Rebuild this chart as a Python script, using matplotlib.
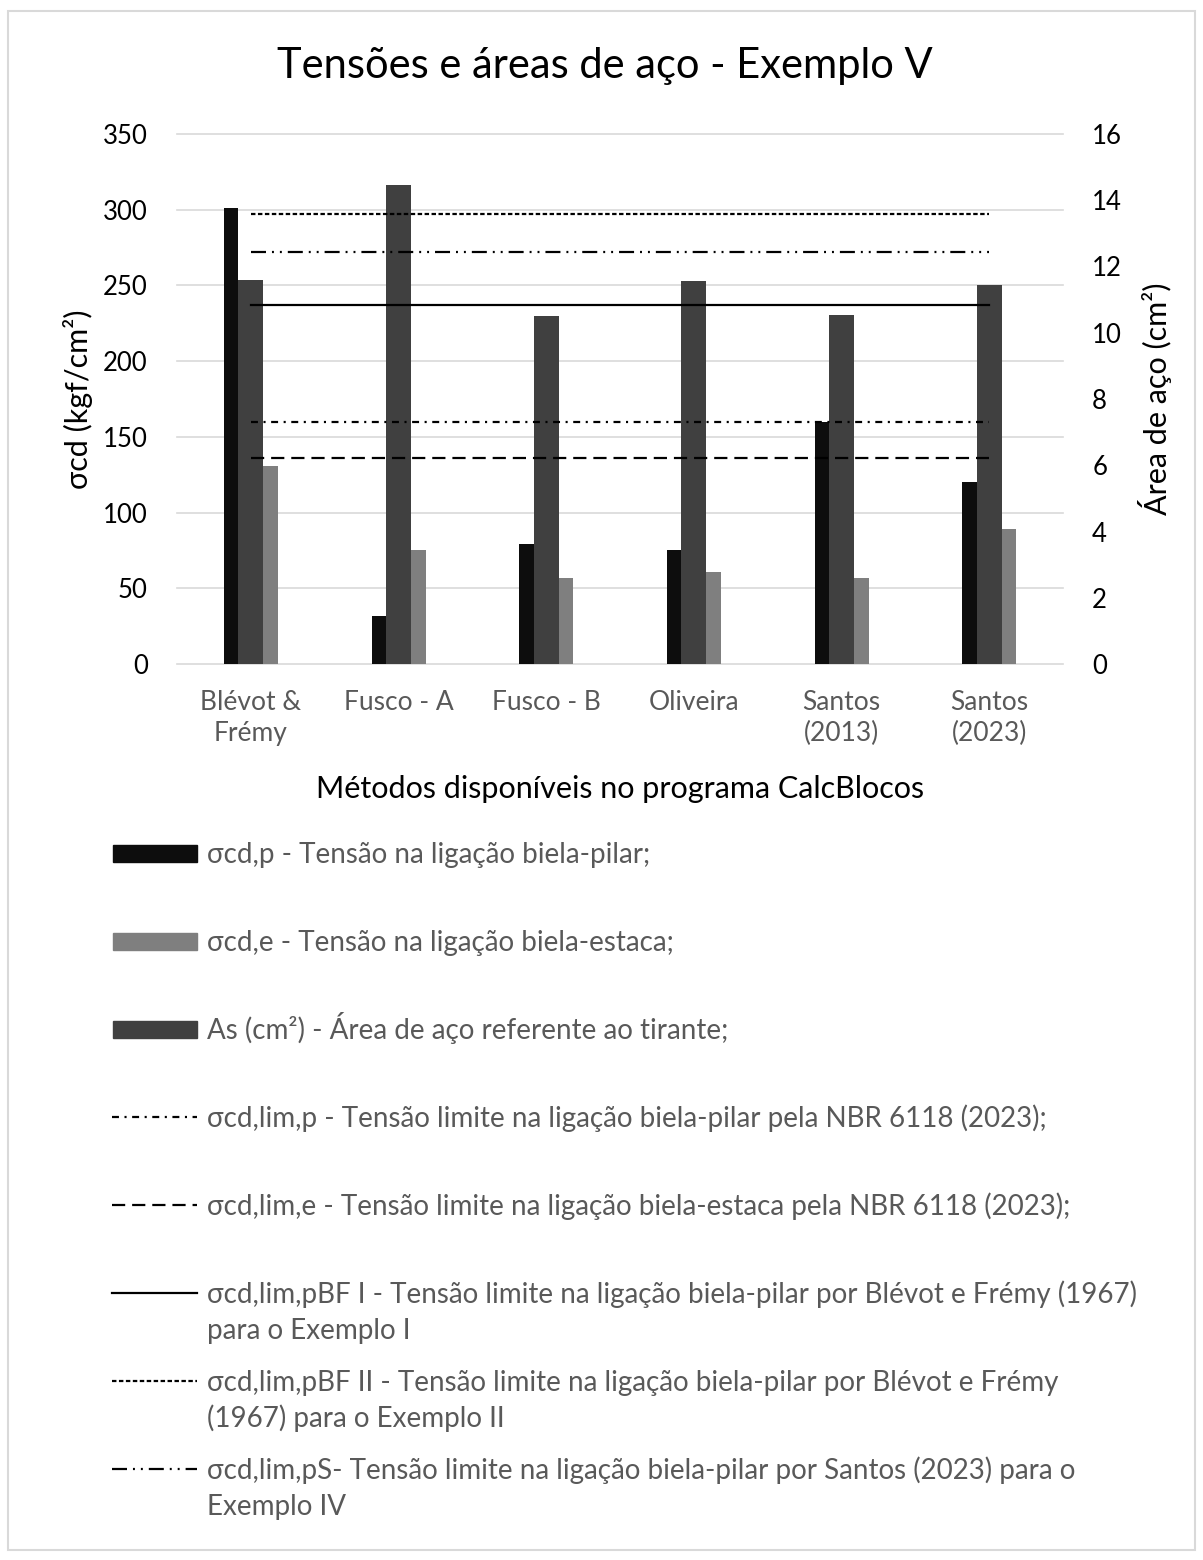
import matplotlib.pyplot as plt
import numpy as np
from matplotlib.patches import Rectangle

plt.rcParams['font.family'] = ['Lato', 'DejaVu Sans']
plt.rcParams['lines.scale_dashes'] = False

# Data
categories = ['Blévot &\nFrémy', 'Fusco - A', 'Fusco - B', 'Oliveira',
              'Santos\n(2013)', 'Santos\n(2023)']
sigma_p = [301, 32, 79, 75, 160, 120]        # kgf/cm2, left axis
sigma_e = [131, 75, 57, 61, 57, 89]          # kgf/cm2, left axis
area_as = [11.6, 14.45, 10.5, 11.55, 10.55, 11.45]  # cm2, right axis

lim_p = 160      # NBR 6118 pilar
lim_e = 136      # NBR 6118 estaca
lim_pbf1 = 237   # Blévot e Frémy, Exemplo I
lim_pbf2 = 297   # Blévot e Frémy, Exemplo II
lim_ps = 272     # Santos (2023), Exemplo IV

left_ticks = list(range(0, 351, 50))
right_ticks = list(range(0, 17, 2))

legend_labels = [
    'σcd,p - Tensão na ligação biela-pilar;',
    'σcd,e - Tensão na ligação biela-estaca;',
    'As (cm²) - Área de aço referente ao tirante;',
    'σcd,lim,p - Tensão limite na ligação biela-pilar pela NBR 6118 (2023);',
    'σcd,lim,e - Tensão limite na ligação biela-estaca pela NBR 6118 (2023);',
    'σcd,lim,pBF I - Tensão limite na ligação biela-pilar por Blévot e Frémy (1967)\npara o Exemplo I',
    'σcd,lim,pBF II - Tensão limite na ligação biela-pilar por Blévot e Frémy\n(1967) para o Exemplo II',
    'σcd,lim,pS- Tensão limite na ligação biela-pilar por Santos (2023) para o\nExemplo IV',
]

# Styles
c_p = '#0d0d0d'
c_as = '#404040'
c_e = '#7f7f7f'
grid_c = '#d9d9d9'
txt_gray = '#595959'
lw = 1.6
st_lim_p = dict(color='k', lw=lw, dashes=[5, 4, 1.5, 4])
st_lim_e = dict(color='k', lw=lw, dashes=[9.5, 5])
st_pbf1 = dict(color='k', lw=lw)
st_pbf2 = dict(color='k', lw=lw, dashes=[3.2, 1.8])
st_ps = dict(color='k', lw=lw, dashes=[10.8, 4.3, 1.4, 4.3, 1.4, 4.3])

W, H = 1203, 1560
fig = plt.figure(figsize=(W / 100, H / 100), dpi=100)


def fx(px):
    return px / W


def fy(py):
    return 1 - py / H


# chart border
fig.patches.append(Rectangle((fx(8), fy(1550)), fx(1195) - fx(8), (1550 - 11) / H,
                             transform=fig.transFigure, fill=False,
                             edgecolor=grid_c, lw=1.5))

ax = fig.add_axes([fx(177), fy(664), fx(1063) - fx(177), (664 - 134) / H])
ax2 = ax.twinx()
ax3 = fig.add_axes(ax.get_position(), sharex=ax, sharey=ax)
ax3.axis('off')

x = np.arange(len(categories))
w_p, w_as, w_e = 0.098, 0.168, 0.10
ax.bar(x - w_as / 2 - w_p / 2, sigma_p, width=w_p, color=c_p)
ax.bar(x + w_as / 2 + w_e / 2, sigma_e, width=w_e, color=c_e)
ax2.bar(x, area_as, width=w_as, color=c_as)

ax3.plot(x, np.full(len(x), lim_p), **st_lim_p)
ax3.plot(x, np.full(len(x), lim_e), **st_lim_e)
ax3.plot(x, np.full(len(x), lim_pbf1), **st_pbf1)
ax3.plot(x, np.full(len(x), lim_pbf2), **st_pbf2)
ax3.plot(x, np.full(len(x), lim_ps), **st_ps)

ax.set_xlim(-0.5, len(categories) - 0.5)
ax.set_ylim(0, 350)
ax2.set_ylim(0, 16)
ax.set_yticks(left_ticks)
ax2.set_yticks(right_ticks)
ax.set_xticks(x)
ax.set_xticklabels(categories, color=txt_gray, fontsize=19, linespacing=1.3)

ax.grid(axis='y', color=grid_c, lw=1.2)
ax.grid(axis='x', visible=False)
ax.set_axisbelow(True)
for gl in ax.get_ygridlines():
    gl.set_clip_on(False)
for a in (ax, ax2):
    for s in a.spines.values():
        s.set_visible(False)
ax.tick_params(axis='y', length=0, pad=21, labelsize=18.5, labelcolor='k')
ax2.tick_params(axis='y', length=0, pad=21, labelsize=18.5, labelcolor='k')
ax.tick_params(axis='x', length=0, pad=19)

# titles
fig.text(fx(605), fy(66), 'Tensões e áreas de aço - Exemplo V', ha='center', va='center',
         fontsize=30, color='k')
fig.text(fx(620), fy(789), 'Métodos disponíveis no programa CalcBlocos', ha='center',
         va='center', fontsize=22, color='k')
fig.text(fx(78), fy(399), 'σcd (kgf/cm²)', rotation=90, ha='center', va='center',
         fontsize=22, color='k')
fig.text(fx(1155), fy(399), 'Área de aço (cm²)', rotation=90, ha='center', va='center',
         fontsize=22, color='k')

# legend drawn below the plot
leg = fig.add_axes([0, 0, 1, 1])
leg.set_xlim(0, W)
leg.set_ylim(H, 0)
leg.axis('off')

handles = [('patch', c_p), ('patch', c_e), ('patch', c_as),
           ('line', st_lim_p), ('line', st_lim_e), ('line', st_pbf1),
           ('line', st_pbf2), ('line', st_ps)]
for k, (label, (kind, st)) in enumerate(zip(legend_labels, handles)):
    yc = 853 + 88 * k
    if kind == 'patch':
        leg.add_patch(Rectangle((113, yc - 8.5), 84, 17, color=st))
    else:
        leg.plot([112, 197], [yc, yc], **st)
    for j, line in enumerate(label.split('\n')):
        leg.text(207, yc + 9.5 + 37 * j, line, ha='left', va='baseline',
                 fontsize=20, color=txt_gray)

fig.savefig('out.png', dpi=100)
